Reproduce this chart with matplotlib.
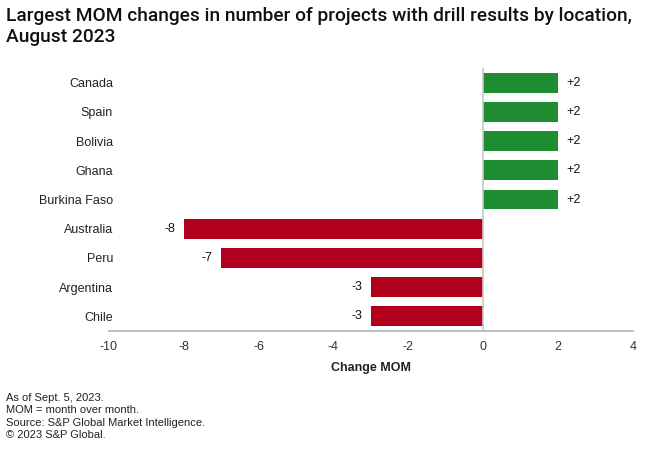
import matplotlib
matplotlib.use("Agg")
import matplotlib.pyplot as plt

countries = ["Canada", "Spain", "Bolivia", "Ghana", "Burkina Faso",
             "Australia", "Peru", "Argentina", "Chile"]
changes = [2, 2, 2, 2, 2, -8, -7, -3, -3]
xticks = [-10, -8, -6, -4, -2, 0, 2, 4]

plt.rcParams['font.family'] = ['Liberation Sans', 'DejaVu Sans']

fig = plt.figure(figsize=(6.6, 4.54), dpi=100)
ax = fig.add_axes([0.165, 0.271, 0.794, 0.579])

ypos = list(range(len(countries)))
colors = ['#1e8c30' if v > 0 else '#b0001e' for v in changes]
ax.barh(ypos, changes, height=0.68, color=colors)

for y, v in zip(ypos, changes):
    lab = f"+{v}" if v > 0 else str(v)
    if v > 0:
        ax.text(v + 0.22, y, lab, va='center', ha='left', fontsize=9, color='#111111')
    else:
        ax.text(v - 0.22, y, lab, va='center', ha='right', fontsize=9, color='#111111')

ax.axvline(0, color='#c8c8c8', lw=1.2, zorder=3)
ax.set_xlim(-10, 4)
ax.set_ylim(len(countries) - 0.5, -0.5)
ax.set_yticks(ypos)
ax.set_yticklabels(countries, fontsize=9, color='#222222')
ax.set_xticks(xticks)
ax.set_xticklabels([str(t) for t in xticks], fontsize=9, color='#333333')
ax.tick_params(axis='y', length=0, pad=-3)
ax.tick_params(axis='x', length=0, pad=7)
for s in ['top', 'right', 'left']:
    ax.spines[s].set_visible(False)
ax.spines['bottom'].set_color('#b0b0b0')
ax.spines['bottom'].set_linewidth(1.2)
ax.set_xlabel("Change MOM", fontsize=9, fontweight='bold', color='#222222', labelpad=7)

fig.text(0.009, 0.985, "Largest MOM changes in number of projects with drill results by location,\nAugust 2023",
         fontsize=13.8, fontweight='medium', family=['Roboto', 'DejaVu Sans'],
         va='top', ha='left', color='#111111', linespacing=1.25)
fig.text(0.009, 0.135, "As of Sept. 5, 2023.\nMOM = month over month.\nSource: S&P Global Market Intelligence.\n\u00a9 2023 S&P Global.",
         fontsize=8, va='top', ha='left', color='#222222', linespacing=1.3)

fig.savefig("out.png", dpi=100)
